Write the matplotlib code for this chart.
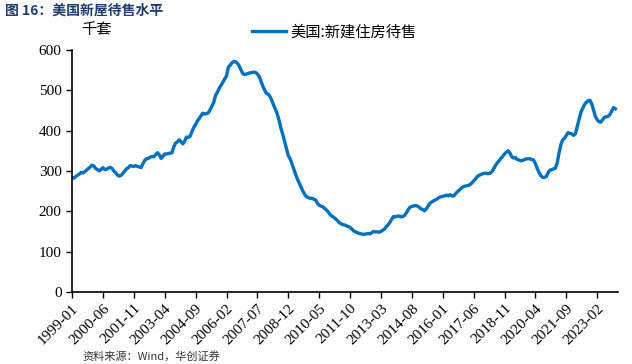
import matplotlib
matplotlib.use("Agg")
import matplotlib.pyplot as plt

plt.rcParams['font.family'] = ['Liberation Serif', 'Noto Sans CJK SC', 'DejaVu Sans']

# 美国新建住房待售（千套），月度，1999-01 ~ 2023-12
start_year = 1999
values = [
    284, 282, 286, 289, 292, 296, 295, 298, 302, 306, 310, 314,   # 1999
    312, 306, 303, 300, 304, 308, 303, 304, 307, 309, 306, 300,   # 2000
    295, 290, 287, 289, 294, 300, 305, 308, 313, 312, 311, 313,   # 2001
    311, 310, 308, 318, 326, 330, 331, 334, 336, 335, 340, 345,   # 2002
    340, 331, 336, 342, 342, 343, 344, 345, 360, 369, 372, 377,   # 2003
    372, 367, 374, 384, 383, 386, 398, 408, 415, 424, 430, 437,   # 2004
    443, 441, 442, 444, 452, 461, 470, 488, 495, 505, 512, 520,   # 2005
    528, 535, 557, 562, 568, 571, 570, 567, 560, 550, 541, 539,   # 2006
    540, 542, 543, 544, 545, 544, 540, 534, 522, 510, 500, 492,   # 2007
    490, 484, 474, 462, 452, 440, 424, 405, 390, 372, 355, 338,   # 2008
    330, 318, 305, 292, 280, 270, 260, 250, 242, 236, 234, 232,   # 2009
    232, 230, 228, 220, 215, 213, 211, 207, 203, 198, 192, 188,   # 2010
    185, 181, 177, 172, 169, 167, 166, 164, 162, 160, 156, 151,   # 2011
    149, 147, 145, 144, 143, 143, 144, 145, 144, 147, 150, 149,   # 2012
    149, 148, 150, 153, 156, 162, 167, 173, 181, 187, 186, 188,   # 2013
    188, 186, 187, 190, 196, 204, 210, 212, 213, 214, 213, 210,   # 2014
    206, 204, 201, 206, 213, 220, 223, 226, 228, 231, 234, 236,   # 2015
    237, 238, 240, 238, 241, 238, 238, 243, 248, 252, 256, 260,   # 2016
    262, 263, 264, 266, 270, 275, 280, 286, 289, 291, 293, 294,   # 2017
    294, 293, 294, 298, 305, 313, 320, 325, 331, 336, 342, 346,   # 2018
    350, 344, 335, 332, 333, 328, 327, 325, 326, 328, 330, 330,   # 2019
    330, 328, 327, 318, 306, 296, 288, 284, 284, 286, 296, 302,   # 2020
    303, 305, 307, 320, 345, 365, 377, 381, 388, 395, 393, 392,   # 2021
    388, 392, 410, 428, 445, 455, 464, 470, 474, 475, 466, 450,   # 2022
    435, 427, 422, 421, 427, 433, 434, 435, 440, 448, 457, 454,   # 2023
]
labels = []
for i in range(len(values)):
    labels.append(f"{start_year + i // 12}-{i % 12 + 1:02d}")

tick_step = 17
y_ticks = [0, 100, 200, 300, 400, 500, 600]

fig = plt.figure(figsize=(6.32, 3.64), dpi=100)
ax = fig.add_axes([0.114, 0.198, 0.864, 0.665])

x = list(range(len(values)))
ax.plot(x, values, color='#0070C0', lw=2.4, label='美国:新建住房待售')

ax.set_xlim(0, 300.5)
ax.set_ylim(0, 600)
ax.set_yticks(y_ticks)
ax.set_xticks(x[::tick_step])
ax.set_xticklabels(labels[::tick_step], rotation=45, ha='right', rotation_mode='anchor')
ax.tick_params(axis='both', labelsize=11, length=4, width=1, colors='black', direction='out')
ax.tick_params(axis='x', pad=3)
for s in ['top', 'right']:
    ax.spines[s].set_visible(False)
for s in ['left', 'bottom']:
    ax.spines[s].set_linewidth(1.2)

fig.text(0.152, 0.918, '千套', fontsize=11, ha='center', va='center',
         family=['Noto Sans CJK SC'])
ax.legend(loc='upper center', bbox_to_anchor=(0.48, 1.165), frameon=False,
          prop={'family': 'Noto Sans CJK SC', 'size': 11}, handlelength=2.2,
          handletextpad=0.3)

fig.text(0.008, 0.972, '图 16：美国新屋待售水平', fontsize=10, fontweight='bold',
         color='#1F3D6E', ha='left', va='center', family=['Noto Sans CJK SC'])
fig.text(0.13, 0.022, '资料来源：Wind，华创证券', fontsize=8, color='#333333',
         ha='left', va='center', family=['Noto Sans CJK SC'])

fig.savefig('out.png', dpi=100)
